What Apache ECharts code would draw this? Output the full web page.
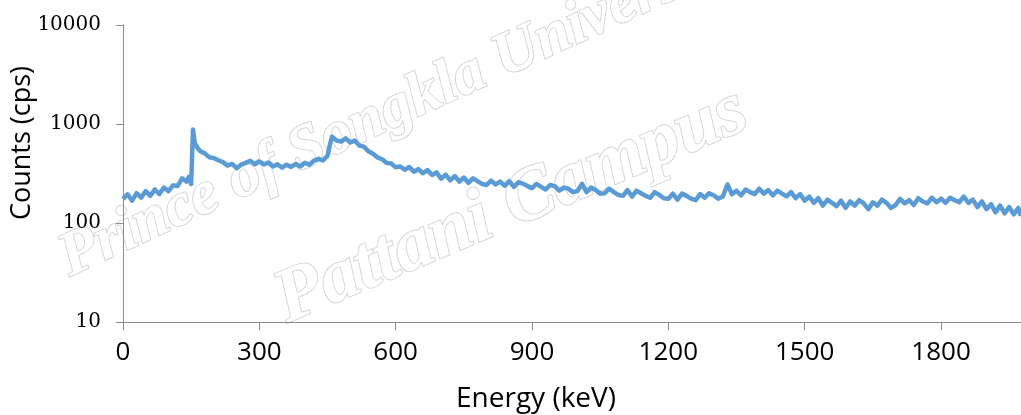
<!DOCTYPE html>
<html>
<head>
<meta charset="utf-8">
<script src="https://cdn.jsdelivr.net/npm/echarts@6/dist/echarts.min.js"></script>
<style>
html,body{margin:0;padding:0;background:#fff;}
#chart{width:1021px;height:415px;}
</style>
</head>
<body>
<div id="chart"></div>
<script>
// Energy (keV) of sampled points
var energy = [0,10,20,30,40,50,60,70,80,90,100,110,120,130,140,145,150,154,158,165,170,180,190,200,210,220,230,240,250,260,270,280,290,300,310,320,330,340,350,360,370,380,390,400,410,420,430,440,450,455,460,470,480,490,500,510,520,530,540,550,560,570,580,590,600,610,620,630,640,650,660,670,680,690,700,710,720,730,740,750,760,770,780,790,800,810,820,830,840,850,860,870,880,890,900,910,920,930,940,950,960,970,980,990,1000,1010,1020,1030,1040,1050,1060,1070,1080,1090,1100,1110,1120,1130,1140,1150,1160,1170,1180,1190,1200,1210,1220,1230,1240,1250,1260,1270,1280,1290,1300,1310,1320,1330,1340,1350,1360,1370,1380,1390,1400,1410,1420,1430,1440,1450,1460,1470,1480,1490,1500,1510,1520,1530,1540,1550,1560,1570,1580,1590,1600,1610,1620,1630,1640,1650,1660,1670,1680,1690,1700,1710,1720,1730,1740,1750,1760,1770,1780,1790,1800,1810,1820,1830,1840,1850,1860,1870,1880,1890,1900,1910,1920,1930,1940,1950,1960,1970,1976];
// Counts (cps)
var counts = [175,195,168,200,180,210,188,218,196,228,210,240,236,282,262,
  292,248,880,640,565,
  530,505,462,452,430,412,380,395,358,388,405,425,392,418,390,408,372,392,362,388,368,395,372,405,388,425,445,428,478,
  610,
  745,680,665,715,650,680,605,590,530,500,460,440,405,400,365,372,345,368,330,350,318,342,305,325,280,308,270,298,262,288,
  255,282,265,248,242,268,245,262,238,265,232,258,250,236,225,248,232,218,242,236,212,228,222,205,210,248,205,228,215,198,
  200,222,205,192,188,215,185,212,200,188,180,205,192,178,176,198,172,198,188,176,170,196,180,200,190,176,185,245,195,212,
  190,218,205,196,222,198,215,190,212,198,186,205,178,196,168,185,160,178,150,172,160,148,168,142,165,150,170,158,138,162,
  150,172,160,142,152,175,158,170,152,178,165,158,180,162,176,160,180,170,162,185,160,172,145,165,138,155,128,150,125,145,
  122,142,118];
var xTicks = [0,300,600,900,1200,1500,1800];
var xTitle = 'Energy (keV)';
var yTitle = 'Counts (cps)';
var watermark1 = 'Prince of Songkla University';
var watermark2 = 'Pattani Campus';

var data = energy.map(function(e,i){return [e, counts[i]];});
var chart = echarts.init(document.getElementById('chart'), null, {renderer:'canvas'});
var axisColor = '#8c8c8c';
chart.setOption({
  animation:false,
  backgroundColor:'#ffffff',
  grid:{left:123, right:0, top:25, bottom:93, containLabel:false},
  xAxis:{
    type:'value', min:0, max:1976,
    axisLine:{show:true, lineStyle:{color:axisColor, width:1}},
    axisTick:{show:true, length:8, inside:false, customValues:xTicks, lineStyle:{color:axisColor}},
    axisLabel:{customValues:xTicks, margin:18, color:'#000', fontFamily:'Open Sans', fontSize:26,
      formatter:function(v){return String(v);}},
    splitLine:{show:false}
  },
  yAxis:{
    type:'log', logBase:10, min:10, max:10000,
    axisLine:{show:true, lineStyle:{color:axisColor, width:1}},
    axisTick:{show:true, length:7, inside:false, lineStyle:{color:axisColor}},
    axisLabel:{margin:22, color:'#000', fontFamily:'DejaVu Serif', fontSize:20,
      formatter:function(v){return String(Math.round(v));}},
    splitLine:{show:false},
    minorTick:{show:false}
  },
  graphic:[
    {type:'text', z:0, x:76, y:290, rotation:0.43,
      style:{text:watermark1, font:'bold italic 62px "Liberation Serif"', fill:'#ffffff', stroke:'#d6d6d6', lineWidth:2, textAlign:'left', textVerticalAlign:'bottom'}},
    {type:'text', z:0, x:294, y:340, rotation:0.40,
      style:{text:watermark2, font:'bold italic 76px "Liberation Serif"', fill:'#ffffff', stroke:'#d6d6d6', lineWidth:2, textAlign:'left', textVerticalAlign:'bottom'}},
    {type:'text', z:10, x:536, y:399,
      style:{text:xTitle, font:'28px "Open Sans"', fill:'#000', textAlign:'center', textVerticalAlign:'middle'}},
    {type:'text', z:10, x:22, y:143, rotation:Math.PI/2,
      style:{text:yTitle, font:'27px "Open Sans"', fill:'#000', textAlign:'center', textVerticalAlign:'middle'}}
  ],
  series:[{
    type:'line', data:data, showSymbol:false, symbol:'none', z:5,
    lineStyle:{color:'#5b9bd5', width:4.5, join:'round'}
  }]
});
</script>
</body>
</html>
